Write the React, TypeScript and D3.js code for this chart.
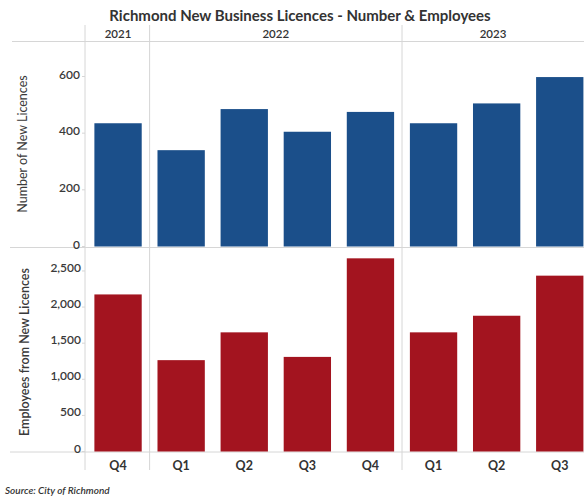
import React from "react";
import * as d3 from "d3";

const categories = ["2021-Q4", "2022-Q1", "2022-Q2", "2022-Q3", "2022-Q4", "2023-Q1", "2023-Q2", "2023-Q3"];
const quarterLabels = ["Q4", "Q1", "Q2", "Q3", "Q4", "Q1", "Q2", "Q3"];
const years = ["2021", "2022", "2023"];
const yearOfCategory = ["2021", "2022", "2022", "2022", "2022", "2023", "2023", "2023"];
const licences = [435, 340, 485, 405, 475, 435, 505, 598];
const employees = [2175, 1265, 1650, 1310, 2675, 1650, 1880, 2435];
const licenceTicks = [0, 200, 400, 600];
const employeeTicks = [0, 500, 1000, 1500, 2000, 2500];

const W = 584;
const H = 500;
const FONT = "Lato, 'Open Sans', sans-serif";
const BLUE = "#1b4f8a";
const RED = "#a3141f";
const LINE = "#d6d6d6";

export default function App() {
  const x = d3
    .scaleBand<string>()
    .domain(categories)
    .range([86.5, 591.3])
    .paddingInner(0.25)
    .paddingOuter(0.125);
  const step = x.step();
  const bw = x.bandwidth();
  const gap = (step - bw) / 2;

  const yTop = d3.scaleLinear().domain([0, 720]).range([246.5, 42.5]);
  const yBot = d3.scaleLinear().domain([0, 2800]).range([451.5, 249.3]);
  const fmt = d3.format(",");

  const axisX = 85;
  const headerY = 41.5;

  const groups = years.map((yr) => {
    const cats = categories.filter((_, i) => yearOfCategory[i] === yr);
    const start = (x(cats[0]) as number) - gap;
    const end = (x(cats[cats.length - 1]) as number) + bw + gap;
    return { yr, start, end };
  });

  return (
    <svg width={W} height={H} style={{ position: "absolute", left: 0, top: 0, background: "#fff" }} fontFamily={FONT}>
      <rect x={0} y={0} width={W} height={H} fill="#fff" />
      <text x={300} y={21} textAnchor="middle" fontSize={15} fontWeight={700} fill="#333">
        Richmond New Business Licences - Number &amp; Employees
      </text>

      <line x1={12} x2={W} y1={headerY} y2={headerY} stroke={LINE} strokeWidth={1} />
      <line x1={10} x2={W} y1={yTop(0) + 1} y2={yTop(0) + 1} stroke={LINE} strokeWidth={1} />
      <line x1={10} x2={W} y1={yBot(0) + 0.5} y2={yBot(0) + 0.5} stroke={LINE} strokeWidth={1} />

      <line x1={axisX} x2={axisX} y1={25} y2={470} stroke={LINE} strokeWidth={1} />
      {groups.slice(1).map((g) => (
        <line key={g.yr} x1={g.start} x2={g.start} y1={25} y2={470} stroke={LINE} strokeWidth={1} />
      ))}

      {groups.map((g) => (
        <text key={g.yr} x={(g.start + Math.min(g.end, W)) / 2} y={38} textAnchor="middle" fontSize={11.5} fontWeight={600} fill="#333">
          {g.yr}
        </text>
      ))}

      {categories.map((c, i) => (
        <rect key={c} x={x(c)} y={yTop(licences[i])} width={bw} height={yTop(0) - yTop(licences[i])} fill={BLUE} />
      ))}
      {categories.map((c, i) => (
        <rect key={c} x={x(c)} y={yBot(employees[i])} width={bw} height={yBot(0) - yBot(employees[i])} fill={RED} />
      ))}

      {licenceTicks.map((t) => (
        <g key={t}>
          <line x1={axisX - 3} x2={axisX} y1={yTop(t)} y2={yTop(t)} stroke={LINE} />
          <text x={80} y={yTop(t) - 1} textAnchor="end" dominantBaseline="middle" fontSize={12} fontWeight={600} fill="#3a3a3a">
            {fmt(t)}
          </text>
        </g>
      ))}
      {employeeTicks.map((t) => (
        <g key={t}>
          <line x1={axisX - 3} x2={axisX} y1={yBot(t)} y2={yBot(t)} stroke={LINE} />
          <text x={81} y={yBot(t) - 2} textAnchor="end" dominantBaseline="middle" fontSize={12} fontWeight={600} fill="#3a3a3a">
            {fmt(t)}
          </text>
        </g>
      ))}

      <text transform={`translate(27,144) rotate(-90)`} textAnchor="middle" fontSize={12.5} fill="#3a3a3a">
        Number of New Licences
      </text>
      <text transform={`translate(29,352) rotate(-90)`} textAnchor="middle" fontSize={12.5} fontWeight={600} fill="#3a3a3a">
        Employees from New Licences
      </text>

      {categories.map((c, i) => (
        <text key={c} x={(x(c) as number) + bw / 2} y={470} textAnchor="middle" fontSize={12.5} fontWeight={700} fill="#333">
          {quarterLabels[i]}
        </text>
      ))}

      <text x={5} y={494} fontSize={10} fontStyle="italic" fontWeight={600} fill="#333">
        Source: City of Richmond
      </text>
    </svg>
  );
}
